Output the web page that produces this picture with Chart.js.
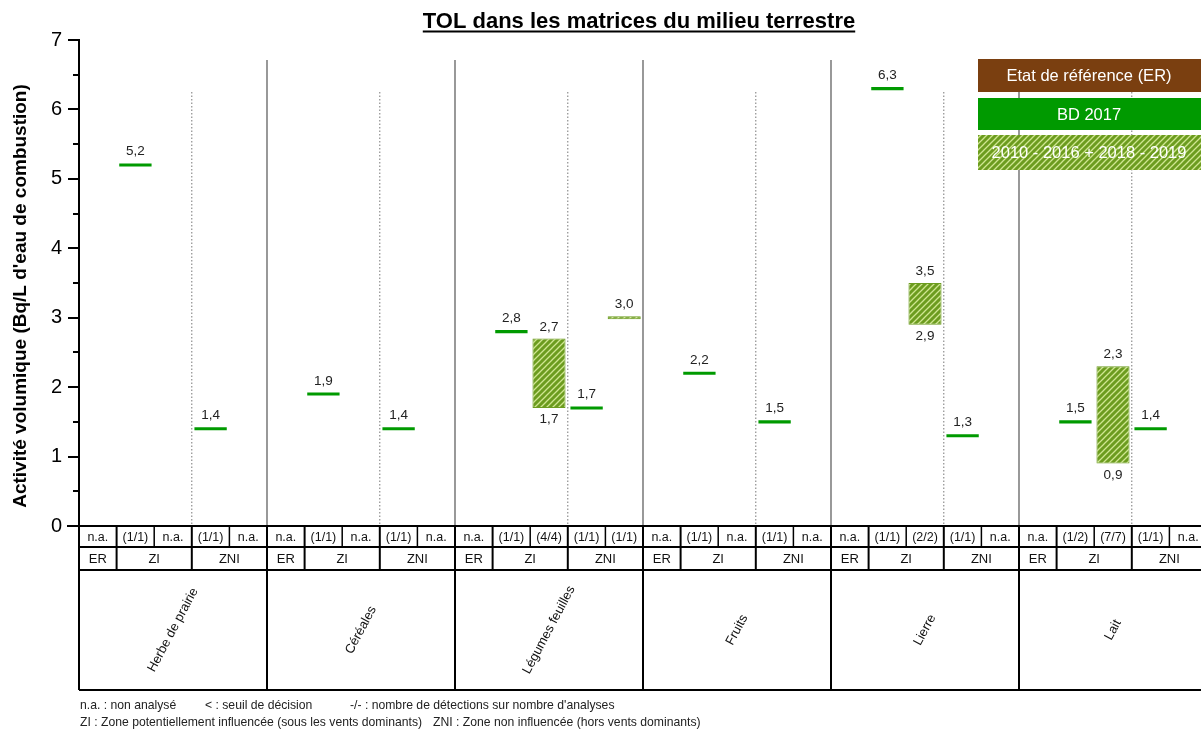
<!DOCTYPE html>
<html lang="fr">
  <head>
    <meta charset="UTF-8" />
    <title>TOL dans les matrices du milieu terrestre</title>
    <style>
      html, body { margin: 0; padding: 0; background: #fff; overflow: hidden; }
      #wrap { width: 1208px; height: 734px; }
    </style>
  </head>
  <body>
    <div id="wrap">
      <canvas id="tolChart" width="1208" height="734"></canvas>
    </div>

    <script src="https://cdn.jsdelivr.net/npm/chart.js"></script>
    <script>
      // --- data ---
      const groups = ["Herbe de prairie", "Céréales", "Légumes feuilles", "Fruits", "Lierre", "Lait"];
      const columns = ["ER", "ZI BD", "ZI période", "ZNI BD", "ZNI période"];
      const seriesNames = ["Etat de référence (ER)", "BD 2017", "2010 - 2016 + 2018 - 2019"];

      const erValues = [null, null, null, null, null, null];
      const bd2017ZI = [5.2, 1.9, 2.8, 2.2, 6.3, 1.5];
      const bd2017ZNI = [1.4, 1.4, 1.7, 1.5, 1.3, 1.4];
      const periodZIMin = [null, null, 1.7, null, 2.9, 0.9];
      const periodZIMax = [null, null, 2.7, null, 3.5, 2.3];
      const periodZNIMin = [null, null, 3.0, null, null, null];
      const periodZNIMax = [null, null, 3.0, null, null, null];

      const counts = [
        ["n.a.", "(1/1)", "n.a.", "(1/1)", "n.a."],
        ["n.a.", "(1/1)", "n.a.", "(1/1)", "n.a."],
        ["n.a.", "(1/1)", "(4/4)", "(1/1)", "(1/1)"],
        ["n.a.", "(1/1)", "n.a.", "(1/1)", "n.a."],
        ["n.a.", "(1/1)", "(2/2)", "(1/1)", "n.a."],
        ["n.a.", "(1/2)", "(7/7)", "(1/1)", "n.a."]
      ];
      const yTicks = [0, 1, 2, 3, 4, 5, 6, 7];

      const FONT = "'Liberation Sans', Arial, sans-serif";
      const BROWN = "#7a3f10";
      const GREEN = "#009a00";
      const HALF = 0.022; // half thickness of a single-value mark

      function hatch() {
        const c = document.createElement("canvas");
        c.width = 6; c.height = 6;
        const g = c.getContext("2d");
        g.fillStyle = "#6c9c1f";
        g.fillRect(0, 0, 6, 6);
        g.strokeStyle = "#cfe691";
        g.lineWidth = 1.3;
        g.beginPath();
        g.moveTo(-1, 7); g.lineTo(7, -1);
        g.moveTo(-1, 1); g.lineTo(1, -1);
        g.moveTo(5, 7); g.lineTo(7, 5);
        g.stroke();
        return g.createPattern(c, "repeat");
      }
      const HATCH = hatch();

      function range(lo, hi) {
        return hi - lo < 2 * HALF ? [lo - HALF, hi + HALF] : [lo, hi];
      }
      function fmt(v) { return v.toFixed(1).replace(".", ","); }

      // build the 30 columns (5 per group)
      const labels = [];
      const erData = [], bdData = [], perData = [];
      groups.forEach((g, i) => {
        columns.forEach(c => labels.push(g + " - " + c));
        erData.push(erValues[i] == null ? null : [erValues[i] - HALF, erValues[i] + HALF]);
        bdData.push(null);
        perData.push(null);

        erData.push(null);
        bdData.push(bd2017ZI[i] == null ? null : [bd2017ZI[i] - HALF, bd2017ZI[i] + HALF]);
        perData.push(null);

        erData.push(null);
        bdData.push(null);
        perData.push(periodZIMin[i] == null ? null : range(periodZIMin[i], periodZIMax[i]));

        erData.push(null);
        bdData.push(bd2017ZNI[i] == null ? null : [bd2017ZNI[i] - HALF, bd2017ZNI[i] + HALF]);
        perData.push(null);

        erData.push(null);
        bdData.push(null);
        perData.push(periodZNIMin[i] == null ? null : range(periodZNIMin[i], periodZNIMax[i]));
      });

      // boundary to the left of column c
      function edge(chart, c) {
        const x = chart.scales.x;
        if (c <= 0) return chart.chartArea.left;
        if (c >= 30) return chart.chartArea.right;
        return (x.getPixelForValue(c - 1) + x.getPixelForValue(c)) / 2;
      }

      const decor = {
        id: "decor",
        beforeDatasetsDraw(chart) {
          const ctx = chart.ctx, a = chart.chartArea;
          ctx.save();
          for (let g = 0; g < groups.length; g++) {
            const left = edge(chart, g * 5);
            if (g > 0) {
              ctx.strokeStyle = "#444";
              ctx.lineWidth = 1.1;
              ctx.beginPath();
              ctx.moveTo(left, 60); ctx.lineTo(left, a.bottom);
              ctx.stroke();
            }
            const dot = edge(chart, g * 5 + 3);
            ctx.strokeStyle = "#777";
            ctx.lineWidth = 1;
            ctx.setLineDash([1.5, 2]);
            ctx.beginPath();
            ctx.moveTo(dot, 92); ctx.lineTo(dot, a.bottom);
            ctx.stroke();
            ctx.setLineDash([]);
          }
          ctx.restore();
        },
        afterDraw(chart) {
          const ctx = chart.ctx, a = chart.chartArea, x = chart.scales.x, y = chart.scales.y;
          ctx.save();

          // minor ticks
          ctx.strokeStyle = "#000";
          ctx.lineWidth = 2;
          for (let v = 0.5; v < 7; v += 1) {
            const py = Math.round(y.getPixelForValue(v));
            ctx.beginPath();
            ctx.moveTo(a.left - 6, py); ctx.lineTo(a.left, py);
            ctx.stroke();
          }

          // y axis title
          ctx.save();
          ctx.translate(21, 296);
          ctx.rotate(-Math.PI / 2);
          ctx.font = "bold 19px " + FONT;
          ctx.fillStyle = "#000";
          ctx.textAlign = "center";
          ctx.textBaseline = "middle";
          ctx.fillText("Activité volumique (Bq/L d'eau de combustion)", 0, 0);
          ctx.restore();

          // value labels
          ctx.fillStyle = "#222";
          ctx.font = "13.5px " + FONT;
          ctx.textAlign = "center";
          const bdMeta = chart.getDatasetMeta(1);
          bdMeta.data.forEach((el, i) => {
            if (bdData[i] == null) return;
            ctx.textBaseline = "bottom";
            ctx.fillText(fmt((bdData[i][0] + bdData[i][1]) / 2), el.x, el.y - 5);
          });
          const pMeta = chart.getDatasetMeta(2);
          pMeta.data.forEach((el, i) => {
            if (perData[i] == null) return;
            const g = Math.floor(i / 5), zi = (i % 5) === 2;
            const lo = zi ? periodZIMin[g] : periodZNIMin[g];
            const hi = zi ? periodZIMax[g] : periodZNIMax[g];
            ctx.textBaseline = "bottom";
            ctx.fillText(fmt(hi), el.x, y.getPixelForValue(perData[i][1]) - 5);
            if (hi !== lo) {
              ctx.textBaseline = "top";
              ctx.fillText(fmt(lo), el.x, y.getPixelForValue(perData[i][0]) + 5);
            }
          });

          // table under the plot
          const r0 = a.bottom, r1 = 547, r2 = 570, r3 = 690;
          const L = a.left, R = a.right;
          ctx.strokeStyle = "#000";
          ctx.lineWidth = 2;
          [r0, r1, r2, r3].forEach(ry => {
            ctx.beginPath();
            ctx.moveTo(ry === r0 ? L - 12 : L, ry); ctx.lineTo(R, ry);
            ctx.stroke();
          });
          ctx.beginPath();
          ctx.moveTo(L, r0); ctx.lineTo(L, r3);
          ctx.stroke();
          for (let c = 1; c < 30; c++) {
            const ex = edge(chart, c);
            const groupEdge = c % 5 === 0;
            const zoneEdge = c % 5 === 1 || c % 5 === 3;
            const bottom = groupEdge ? r3 : zoneEdge ? r2 : r1;
            ctx.lineWidth = groupEdge || zoneEdge ? 2 : 1.5;
            ctx.beginPath();
            ctx.moveTo(ex, r0); ctx.lineTo(ex, bottom);
            ctx.stroke();
          }

          ctx.fillStyle = "#111";
          ctx.font = "12.5px " + FONT;
          ctx.textBaseline = "middle";
          ctx.textAlign = "center";
          counts.forEach((row, g) => {
            row.forEach((t, c) => {
              ctx.fillText(t, x.getPixelForValue(g * 5 + c), (r0 + r1) / 2 + 1);
            });
          });
          ctx.font = "13px " + FONT;
          groups.forEach((name, g) => {
            ctx.fillText("ER", x.getPixelForValue(g * 5), (r1 + r2) / 2 + 1);
            ctx.fillText("ZI", edge(chart, g * 5 + 2), (r1 + r2) / 2 + 1);
            ctx.fillText("ZNI", edge(chart, g * 5 + 4), (r1 + r2) / 2 + 1);
          });

          ctx.font = "13px " + FONT;
          groups.forEach((name, g) => {
            const cx = x.getPixelForValue(g * 5 + 2);
            ctx.save();
            ctx.translate(cx, 630);
            ctx.rotate(-62 * Math.PI / 180);
            ctx.fillText(name, 0, 0);
            ctx.restore();
          });

          // footnotes
          ctx.textAlign = "left";
          ctx.font = "12.2px " + FONT;
          ctx.fillStyle = "#222";
          ctx.fillText("n.a. : non analysé", 80, 706);
          ctx.fillText("< : seuil de décision", 205, 706);
          ctx.fillText("-/- : nombre de détections sur nombre d'analyses", 350, 706);
          ctx.fillText("ZI : Zone potentiellement influencée (sous les vents dominants)", 80, 723);
          ctx.fillText("ZNI : Zone non influencée (hors vents dominants)", 433, 723);

          // legend boxes
          const lx = 978, lw = 232;
          const boxes = [[59, 33, BROWN], [98, 32, GREEN], [135, 35, HATCH]];
          ctx.textAlign = "center";
          ctx.font = "16.5px " + FONT;
          boxes.forEach((b, i) => {
            ctx.fillStyle = b[2];
            ctx.fillRect(lx, b[0], lw, b[1]);
            ctx.fillStyle = "#fff";
            ctx.fillText(seriesNames[i], 1089, b[0] + b[1] / 2 + 1);
          });

          // title, underlined
          const title = "TOL dans les matrices du milieu terrestre";
          ctx.font = "bold 22px " + FONT;
          ctx.fillStyle = "#000";
          ctx.textBaseline = "alphabetic";
          const tx = 639;
          ctx.fillText(title, tx, 28);
          const tw = ctx.measureText(title).width;
          ctx.lineWidth = 1.8;
          ctx.beginPath();
          ctx.moveTo(tx - tw / 2, 31.5); ctx.lineTo(tx + tw / 2, 31.5);
          ctx.stroke();

          ctx.restore();
        }
      };

      new Chart(document.getElementById("tolChart"), {
        type: "bar",
        data: {
          labels: labels,
          datasets: [
            { label: seriesNames[0], data: erData, backgroundColor: BROWN, grouped: false, barPercentage: 0.86, categoryPercentage: 1 },
            { label: seriesNames[1], data: bdData, backgroundColor: GREEN, grouped: false, barPercentage: 0.86, categoryPercentage: 1 },
            { label: seriesNames[2], data: perData, backgroundColor: HATCH, borderColor: "#6c9c1f", borderWidth: 1, borderSkipped: false, grouped: false, barPercentage: 0.88, categoryPercentage: 1 }
          ]
        },
        options: {
          responsive: false,
          animation: false,
          layout: { padding: { top: 40, bottom: 208, left: 0, right: 1 } },
          plugins: {
            legend: { display: false },
            tooltip: { enabled: false }
          },
          scales: {
            x: { display: false },
            y: {
              min: 0,
              max: 7,
              afterFit: s => { s.width = 79; },
              afterBuildTicks: s => { s.ticks = yTicks.map(v => ({ value: v })); },
              ticks: { color: "#000", font: { family: FONT, size: 20 }, padding: 6 },
              grid: { drawOnChartArea: false, tickLength: 11, color: "#000", lineWidth: 2 },
              border: { color: "#000", width: 2 },
              title: { display: false }
            }
          }
        },
        plugins: [decor]
      });
    </script>
  </body>
</html>
